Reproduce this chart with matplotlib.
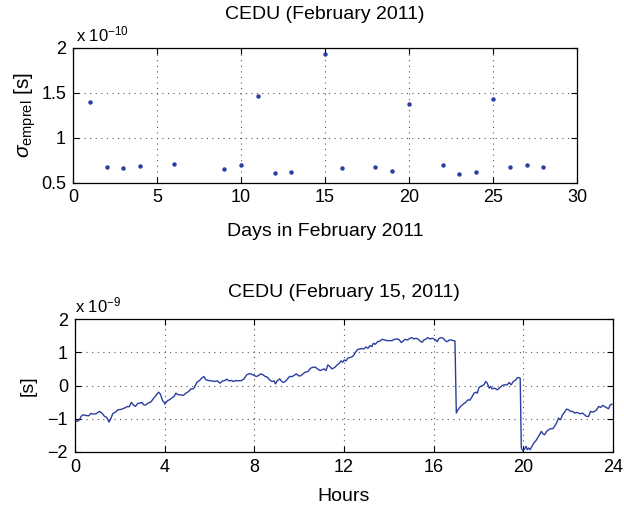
"""
CEDU clock residuals: daily sigma for February 2011 and the 15 Feb trace
"""

import matplotlib
matplotlib.use('Agg')
import matplotlib.pyplot as plt

# Daily values, February 2011 (units of 1e-10 s)
days = [1, 2, 3, 4, 6, 9, 10, 11, 12, 13, 15, 16, 18, 19, 20, 22, 23, 24, 25, 26, 27, 28]
sigma_emprel = [1.40, 0.675, 0.66, 0.683, 0.705, 0.653, 0.697, 1.46, 0.604, 0.62, 1.933,
                0.664, 0.668, 0.63, 1.371, 0.70, 0.597, 0.62, 1.427, 0.67, 0.69, 0.668]

# 15 February 2011 trace (hours, units of 1e-9 s)
hours = [0.00, 0.09, 0.19, 0.27, 0.36, 0.46, 0.61, 0.71, 0.80, 0.94, 1.09, 1.20, 1.32,
         1.41, 1.52, 1.61, 1.68, 1.80, 1.92, 2.05, 2.20, 2.35, 2.42, 2.51, 2.60, 2.69,
         2.80, 2.90, 2.99, 3.06, 3.14, 3.26, 3.38, 3.49, 3.61, 3.73, 3.81, 3.91, 3.97,
         4.01, 4.12, 4.21, 4.31, 4.42, 4.50, 4.61, 4.71, 4.83, 4.95, 5.07, 5.17, 5.28,
         5.35, 5.43, 5.55, 5.65, 5.75, 5.84, 5.95, 6.10, 6.24, 6.35, 6.47, 6.59, 6.69,
         6.76, 6.88, 6.99, 7.06, 7.18, 7.30, 7.43, 7.54, 7.66, 7.78,
         7.84, 7.94, 8.09, 8.19, 8.28, 8.39, 8.49, 8.58, 8.68, 8.79, 8.88, 8.94, 9.02,
         9.13, 9.20, 9.29, 9.38, 9.47, 9.57, 9.68, 9.77, 9.87, 9.98, 10.07, 10.17,
         10.27, 10.39, 10.51, 10.62, 10.72, 10.84, 10.93, 11.02, 11.11, 11.20, 11.28,
         11.37, 11.46, 11.58, 11.70, 11.82,
         11.86, 11.94, 12.01, 12.09, 12.16, 12.27, 12.38, 12.46, 12.53, 12.62, 12.71,
         12.80, 12.89, 12.98, 13.07, 13.16, 13.25, 13.31, 13.40, 13.50, 13.60, 13.72,
         13.81, 13.90, 14.02, 14.14, 14.26, 14.39, 14.47, 14.56, 14.64, 14.73, 14.84,
         14.94, 15.03, 15.12, 15.21, 15.30, 15.39, 15.48, 15.57, 15.66,
         15.74, 15.83, 15.94, 16.01, 16.09, 16.16, 16.24, 16.34, 16.43, 16.52, 16.61,
         16.70, 16.79, 16.87, 16.95, 17.01, 17.08, 17.20, 17.32, 17.44, 17.53, 17.62,
         17.72, 17.80, 17.89, 17.95, 18.02, 18.09, 18.18, 18.24, 18.32, 18.39, 18.48,
         18.54, 18.61, 18.72, 18.84, 18.96, 19.06, 19.16, 19.28, 19.37, 19.46, 19.55,
         19.67,
         19.71, 19.79, 19.86, 19.91, 19.97, 20.04, 20.12, 20.18, 20.24, 20.31, 20.38,
         20.47, 20.56, 20.65, 20.74, 20.80, 20.87, 20.95, 21.04, 21.13, 21.22, 21.31,
         21.39, 21.48, 21.57, 21.66, 21.75, 21.84, 21.93, 22.02, 22.11, 22.20, 22.29,
         22.38, 22.46, 22.55, 22.64, 22.73, 22.82, 22.91, 23.00, 23.09, 23.18, 23.27,
         23.36, 23.45, 23.54, 23.62, 23.71, 23.80, 23.88, 23.95]
offset = [-1.06, -1.08, -1.04, -0.93, -0.88, -0.90, -0.91, -0.84, -0.86, -0.85, -0.78,
          -0.83, -0.93, -0.96, -1.10, -0.98, -0.85, -0.80, -0.73, -0.72, -0.68, -0.63,
          -0.64, -0.51, -0.58, -0.63, -0.54, -0.53, -0.51, -0.58, -0.59, -0.53, -0.50,
          -0.40, -0.30, -0.20, -0.26, -0.46, -0.50,
          -0.56, -0.46, -0.43, -0.38, -0.33, -0.23, -0.28, -0.28, -0.30, -0.23, -0.18,
          -0.10, -0.10, -0.03, 0.09, 0.15, 0.22, 0.27, 0.17, 0.15, 0.14, 0.12, 0.14,
          0.07, 0.14, 0.15, 0.19, 0.14, 0.15, 0.12, 0.15, 0.14, 0.15, 0.20, 0.32, 0.36,
          0.35, 0.32, 0.27, 0.30, 0.35, 0.32, 0.27, 0.25, 0.17, 0.12, 0.14, 0.05, 0.14,
          0.20, 0.14, 0.09, 0.12, 0.19, 0.27, 0.27, 0.30, 0.35, 0.29, 0.29, 0.35, 0.40,
          0.42, 0.52, 0.55, 0.55, 0.49, 0.45, 0.47, 0.50, 0.45, 0.62, 0.57, 0.50, 0.54,
          0.62, 0.69,
          0.74, 0.70, 0.77, 0.74, 0.82, 0.84, 0.87, 0.94, 1.02, 1.09, 1.10, 1.11, 1.10,
          1.16, 1.12, 1.20, 1.17, 1.27, 1.24, 1.32, 1.34, 1.39, 1.37, 1.35, 1.35, 1.35,
          1.39, 1.40, 1.37, 1.29, 1.34, 1.39, 1.37, 1.42, 1.44, 1.40, 1.42, 1.40, 1.34,
          1.30, 1.37, 1.40,
          1.44, 1.40, 1.42, 1.40, 1.37, 1.32, 1.42, 1.44, 1.42, 1.34, 1.32, 1.37, 1.37,
          1.35, 1.34, -0.83, -0.73, -0.63, -0.56, -0.50, -0.43, -0.44, -0.33, -0.23,
          -0.20, -0.23, -0.06, -0.03, 0.00, 0.02, 0.12, 0.07, -0.08, -0.03, -0.10, -0.08,
          -0.13, -0.06, 0.00, 0.02, 0.02, 0.09, 0.02, 0.12, 0.17,
          0.22, 0.24, 0.22, -1.88, -1.96, -1.93, -1.83, -1.93, -1.88, -1.93, -1.83,
          -1.73, -1.66, -1.56, -1.46, -1.38, -1.45, -1.48, -1.38, -1.33, -1.30, -1.30,
          -1.23, -1.13, -0.98, -1.03, -0.88, -0.80, -0.71, -0.73, -0.78, -0.78, -0.83,
          -0.81, -0.83, -0.85, -0.83, -0.88, -0.93, -0.93, -0.78, -0.80, -0.78, -0.73,
          -0.63, -0.66, -0.60, -0.63, -0.66, -0.70, -0.58, -0.56]

BLUE = '#2b3ea0'

plt.rcParams['font.family'] = ['Liberation Sans', 'DejaVu Sans']
plt.rcParams['mathtext.fontset'] = 'custom'
plt.rcParams['mathtext.rm'] = 'Liberation Sans'
plt.rcParams['mathtext.it'] = 'Liberation Sans:italic'
plt.rcParams['mathtext.sf'] = 'Liberation Sans'


def style_axes(ax):
    """MATLAB-like box with inward ticks and dotted grid"""
    ax.tick_params(direction='in', top=True, right=True, labelsize=13,
                   length=4, width=0.8, pad=5)
    ax.grid(True, linestyle=(0, (1, 4)), color='#555555', linewidth=0.8)
    for spine in ax.spines.values():
        spine.set_linewidth(0.9)


fig = plt.figure(figsize=(6.24, 5.09), dpi=100)

# Top: daily sigma
ax1 = fig.add_axes([73 / 624, 1 - 182.5 / 509, (577 - 73) / 624, (182.5 - 48) / 509])
ax1.plot(days, sigma_emprel, 'o', color=BLUE, markersize=3.2, markeredgewidth=0)
ax1.set_xlim(0, 30)
ax1.set_ylim(0.5, 2)
ax1.set_xticks(range(0, 31, 5))
ax1.set_yticks([0.5, 1, 1.5, 2])
ax1.set_yticklabels(['0.5', '1', '1.5', '2'])
style_axes(ax1)
ax1.set_title('CEDU (February 2011)', fontsize=14, pad=21)
ax1.set_xlabel('Days in February 2011', fontsize=14, labelpad=12)
ax1.set_ylabel(r'$\sigma_{\mathrm{emprel}}$ [s]', fontsize=15, labelpad=2)
ax1.text(0.005, 1.03, r'x 10$^{-10}$', transform=ax1.transAxes,
         fontsize=12, ha='left', va='bottom')

# Bottom: 15 February trace
ax2 = fig.add_axes([75 / 624, 1 - 452 / 509, (613 - 75) / 624, (452 - 319) / 509])
ax2.plot(hours, offset, '-', color=BLUE, linewidth=1.0)
ax2.set_xlim(0, 24)
ax2.set_ylim(-2, 2)
ax2.set_xticks(range(0, 25, 4))
ax2.set_yticks([-2, -1, 0, 1, 2])
ax2.set_yticklabels(['\u22122', '\u22121', '0', '1', '2'])
style_axes(ax2)
ax2.set_title('CEDU (February 15, 2011)', fontsize=14, pad=16)
ax2.set_xlabel('Hours', fontsize=14, labelpad=9)
ax2.set_ylabel('[s]', fontsize=14, labelpad=8)
ax2.text(0.0, 1.03, r'x 10$^{-9}$', transform=ax2.transAxes,
         fontsize=12, ha='left', va='bottom')

fig.savefig('out.png', dpi=100)
